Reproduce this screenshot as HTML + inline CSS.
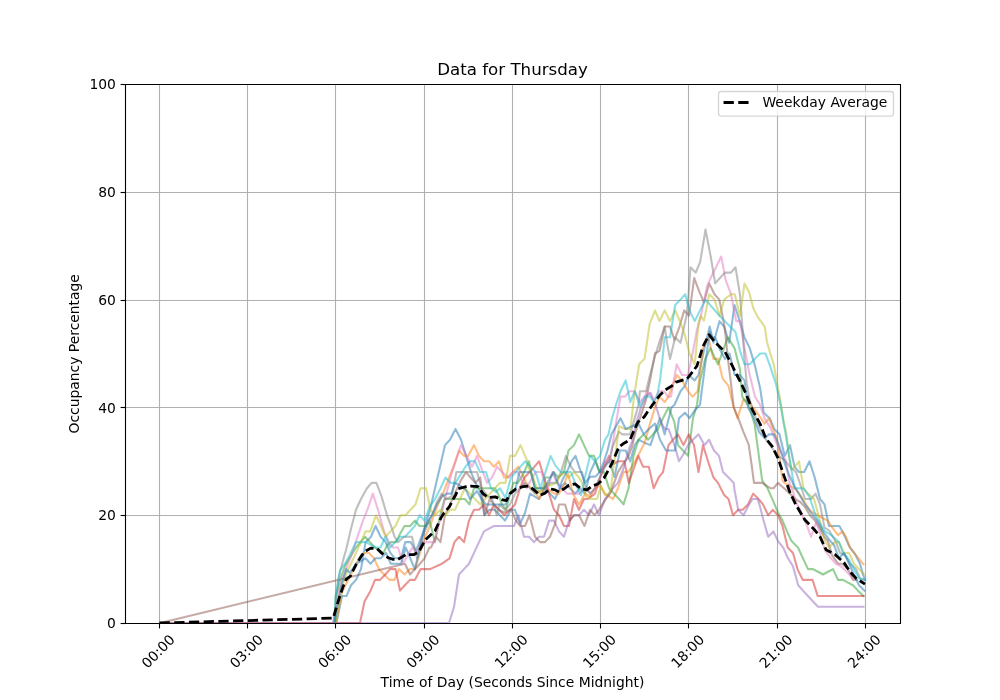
<!DOCTYPE html>
<html><head><meta charset="utf-8"><title>Data for Thursday</title>
<style>html,body{margin:0;padding:0;background:#fff}svg{display:block}</style></head>
<body>
<svg width="1000" height="700" viewBox="0 0 1000 700">
<defs><clipPath id="ax"><rect x="125" y="84" width="775" height="539"/></clipPath></defs>
<rect width="1000" height="700" fill="#fff"/>
<g stroke="#b0b0b0" stroke-width="1.11" fill="none">
<path d="M159.5 84V623"/>
<path d="M247.5 84V623"/>
<path d="M335.5 84V623"/>
<path d="M424.5 84V623"/>
<path d="M512.5 84V623"/>
<path d="M600.5 84V623"/>
<path d="M688.5 84V623"/>
<path d="M777.5 84V623"/>
<path d="M865.5 84V623"/>
<path d="M125 515.5H900"/>
<path d="M125 407.5H900"/>
<path d="M125 300.5H900"/>
<path d="M125 192.5H900"/>
</g>
<g stroke="#000" stroke-width="1.11" fill="none">
<path d="M159.5 623.5v4.9"/>
<path d="M247.5 623.5v4.9"/>
<path d="M335.5 623.5v4.9"/>
<path d="M424.5 623.5v4.9"/>
<path d="M512.5 623.5v4.9"/>
<path d="M600.5 623.5v4.9"/>
<path d="M688.5 623.5v4.9"/>
<path d="M777.5 623.5v4.9"/>
<path d="M865.5 623.5v4.9"/>
<path d="M125.5 623.5h-4.9"/>
<path d="M125.5 515.5h-4.9"/>
<path d="M125.5 407.5h-4.9"/>
<path d="M125.5 300.5h-4.9"/>
<path d="M125.5 192.5h-4.9"/>
<path d="M125.5 84.5h-4.9"/>
</g>
<g clip-path="url(#ax)" fill="none" stroke-width="2.08" stroke-linejoin="round" stroke-linecap="square" stroke-opacity="0.5">
<polyline stroke="#1f77b4" points="336.4,623 342,596.05 346.5,596.05 351,585.27 356,579.88 361,569.1 365.6,542.15 371,536.76 375.6,525.98 380.6,536.76 385.6,542.15 390.4,552.93 394.8,558.32 401,558.32 405.2,542.15 410.6,542.15 416,550.77 422,535.68 425,525.98 430,509.81 435,488.25 440,466.69 445,445.13 450,439.74 455.5,428.96 461,439.74 466,455.91 471,472.08 475.5,482.86 480,490.95 484.5,515.2 489,509.81 494.6,509.81 500,515.2 505,520.59 511,509.81 515,509.81 520,523.82 525,513.04 530,493.64 539,499.03 545,488.25 550,493.64 555,499.03 560,488.25 565,482.86 570,488.25 575,493.64 580,488.25 585,493.64 590,472.62 595.2,461.3 599.8,472.08 604.5,466.69 609,460.22 614.5,476.93 620,450.52 625.7,450.52 630.2,461.3 634.8,445.13 638.5,439.74 644,442.44 650.5,445.13 655,431.65 660,418.18 664.7,434.35 671.5,407.4 674.5,404.71 680.5,391.23 685,385.84 688.7,375.06 694.7,380.45 698.5,375.06 704.5,348.11 709.7,326.55 713.5,342.72 719.5,321.16 724,326.55 729.2,342.72 734.5,304.99 740,322.24 744.5,337.33 749.7,348.11 755,365.9 760.2,388.54 763.7,412.79 769.7,418.18 774.2,428.96 779.5,434.35 784.7,455.91 790,445.13 794.5,466.69 799,472.08 804.2,472.08 809.5,461.3 814.7,477.47 820,499.03 824.5,504.42 829,525.98 839.5,525.98 845,536.76 850,547.54 855,554.01 860,563.71 863,574.49 865,579.88"/>
<polyline stroke="#ff7f0e" points="336,623 342,592.28 346.2,583.65 351,574.49 356,563.71 361,555.62 364.5,552.93 369,552.93 374,558.32 379,569.1 384,574.49 389.5,579.88 394.5,579.88 399,569.1 404.5,574.49 410,569.1 415,569.1 420,552.93 425,536.76 430,525.98 434,515.2 438,504.42 443,493.64 448,480.17 453.5,466.69 459,450.52 464,455.91 468,455.91 474,445.13 479,455.91 484,461.3 489,461.3 494,466.69 499,461.3 504,477.47 508,477.47 513,472.08 518.2,466.69 523,475.85 526,482.86 531,488.25 536.2,493.64 539,499.03 545,486.09 550,490.95 554.5,493.64 559,493.64 564,485.02 568,473.7 573,493.64 579,504.42 585,493.64 590,496.34 595,488.25 600,485.56 605,493.64 609,496.34 613,499.03 618,488.25 623.6,472.08 627.8,472.08 631.3,467.77 635,461.3 639,453.75 644.6,442.97 650,423.57 655,407.4 659.5,396.62 664.7,402.01 668.5,396.62 672.5,385.84 676.7,375.06 682,380.45 688,391.23 692.5,396.62 697.7,391.23 703,348.11 708.2,337.33 713.5,358.89 718,358.89 722.5,378.29 728.5,385.84 733,404.71 737.5,418.18 743.5,399.32 748,402.01 753,407.4 759,415.49 764.5,423.57 769,418.18 773,428.96 777.2,439.74 780,461.3 782.5,480.17 784,482.86 790,485.56 796,489.87 801,496.34 806,504.42 811,511.43 818.5,515.74 827.5,520.59 833,528.67 838,535.14 842.5,531.37 846,536.76 849,545.92 854,552.93 859,558.86 863.5,564.25"/>
<polyline stroke="#2ca02c" points="335,623 335.8,596.05 340,580.42 345,565.87 350,557.24 356,547.54 360.5,542.15 365,536.76 370,542.15 375,547.54 379.5,550.24 383.5,552.93 387,545.38 390.5,542.15 396,542.15 400,534.07 404.5,525.98 410,525.98 415,520.59 419.5,525.98 426,525.98 429.5,520.59 435,542.15 439,520.59 444.5,499.03 464.9,499.03 469.4,504.42 474,488.25 495,488.25 498,493.64 502,504.42 506,509.81 510,493.64 513.4,482.86 517.6,482.86 522.4,475.85 529,461.3 532,475.85 535,488.25 544,488.25 545,477.47 550,477.47 553.6,472.08 558.4,477.47 564,472.08 568.5,450.52 574,445.13 579,434.35 584,445.13 589,455.91 594,455.91 599.5,472.08 604,472.08 609,488.25 614,493.64 619,499.03 623.5,504.42 628.5,488.25 633.5,455.91 638.5,439.74 643.7,434.35 648,439.74 653,434.35 658,428.96 663,418.18 668.5,407.4 674.5,422.49 678,445.13 683,450.52 688,455.91 693,418.18 697,404.71 700,380.45 705.2,358.89 710.5,348.11 714,356.19 718,364.28 723,350.81 727.7,337.33 734.5,348.11 740,369.67 742.2,396.62 749.5,407.4 754.7,424.65 757.7,447.29 762.2,480.7 767.5,488.25 773,500.65 778,512.5 782.5,520.59 787,531.37 791.5,541.07 798,547.54 803,558.32 808,569.1 813,569.1 818,571.79 823,574.49 828,571.79 833,569.1 838,579.88 843,579.88 848,582.58 853,585.27 858,590.66 863.5,596.05"/>
<polyline stroke="#d62728" points="160.2,623 360,623 364.5,601.44 370.6,590.66 375,579.88 380,579.88 385.3,574.49 390,569.1 395.5,569.1 400,590.66 404.8,585.27 410,579.88 415,579.88 420.5,569.1 430,569.1 442,563.71 449.5,558.32 454.5,542.15 459,536.76 464,542.15 469,520.59 474,509.81 479,509.81 484,504.42 489,515.2 494,504.42 498.8,509.81 504.4,515.2 510,509.81 515,504.42 518.4,493.64 520,488.25 524.5,477.47 529.5,472.08 534.5,466.69 539.2,461.3 544,477.47 549,493.64 554,509.81 559,515.2 564,525.98 569,525.98 574,499.03 579,509.81 584,499.03 588,499.03 595,493.64 599,480.17 604,466.69 609,455.91 613.5,464 618,461.3 624.3,461.3 628.8,482.86 633.5,469.38 638.3,455.91 643,466.69 648.8,466.69 653.7,488.25 658.7,477.47 663,472.08 668.5,445.13 673,439.74 678,434.35 683.5,445.13 688.7,434.35 694,445.13 698.5,472.08 703,445.13 708,461.3 713.5,477.47 718,482.86 724,494.72 728.5,499.03 733,515.2 738.2,509.81 742.7,509.81 748,504.42 753.2,493.64 758.5,499.03 763,504.42 768.2,515.2 772.7,509.81 778,515.2 782.5,525.98 787.7,547.54 793,552.93 797.5,569.1 802.7,579.88 812.5,579.88 817.7,596.05 863.5,596.05"/>
<polyline stroke="#9467bd" points="160.2,623 336.4,623 449,623 454,606.83 459,574.49 464,569.1 469,563.71 474,552.93 479,542.15 484,531.37 489,528.67 494,525.98 505,525.98 514,525.98 518.5,515.2 524,536.76 529,536.76 534,542.15 539,536.76 544,536.76 549,520.59 554,520.59 559,531.37 564,536.76 569,520.59 574,515.2 579,515.2 584,509.81 589,515.2 594,504.42 599,515.2 605,499.03 609,493.64 613,488.25 618,482.86 623.6,467.77 629.2,448.36 632.7,439.74 636,423.57 641,407.4 646,396.62 650.5,392.85 656,406.32 661,422.49 665,428.96 668.5,428.96 674.5,445.13 679,461.3 684,453.22 688,445.13 693,439.74 698.5,434.35 704.5,445.13 709,439.74 714,450.52 719,455.91 723,472.08 728.5,477.47 733.7,482.86 734.5,489.87 738.2,509.81 743.5,515.2 748,506.58 752.5,499.03 757.7,499.03 760,506.58 763,518.43 768.2,536.76 773.5,531.37 778,541.07 783.2,547.54 788,558.32 793,566.4 798.2,585.27 803,590.66 808,596.05 813,601.44 818,606.83 863.5,606.83"/>
<polyline stroke="#8c564b" points="160.2,623 405,563.71 410,574.49 415,569.1 420,563.71 424.5,558.32 429.5,547.54 431,547.54 436,536.76 440.5,542.15 445,515.2 450,504.42 456,490.95 461,480.17 466,472.08 470.5,477.47 475.4,482.86 480.3,477.47 484.5,515.2 489.7,499.03 494,504.42 498.8,509.81 504.4,512.5 511,509.27 516,520.59 520,525.98 525,525.98 529.5,515.2 535,536.76 540,542.15 545,542.15 550,536.76 555,523.82 559,504.42 565,504.42 570,520.59 574,515.2 579,515.2 584.5,525.98 590,509.81 594.5,515.2 599,509.81 605,500.11 610,493.64 614.5,481.78 618,472.08 623,464 627.8,457.53 632,446.75 635,434.35 638.5,422.49 646,399.85 650,380.45 655,353.5 659.5,350.81 664.7,326.55 670,326.55 674.5,340.03 679.5,326.55 684.2,310.38 689,315.77 694.2,278.04 699.5,292.05 704,302.3 709.2,283.43 714.5,294.21 719.3,299.6 722.5,315.77 725,329.78 728,359.43 731,383.68 733.7,407.4 738.2,418.18 743.5,432.19 748.7,444.59 751.5,464 754,482.86 762.2,482.86 770.5,488.25 773.5,488.25 778,482.86 784,488.25 790,493.64 796,499.57 800,501.73 805,507.12 810,515.2 815,520.59 820,528.67 824,536.76 828,541.07 832,555.09 838,563.71 842,563.71 848,569.1 853,579.88 857,579.88"/>
<polyline stroke="#e377c2" points="333,623 339.2,590.12 342,579.88 346,569.1 351.5,555.09 357.5,536.76 363,520.59 368,508.19 372.8,493.64 378,509.81 384,531.37 389,542.15 393.2,547.54 398,547.54 402.8,563.71 407.6,555.62 412.4,547.54 416.4,552.93 422,542.15 427,542.15 434,542.15 440,520.59 445,499.03 452,472.08 456.5,458.61 461,445.13 466.5,455.91 472,466.69 477,455.91 482,469.92 487,482.86 492,477.47 497,466.69 502,472.08 508,477.47 512.8,472.08 517.6,472.08 521.8,480.17 526.6,488.25 530.8,480.17 535.6,472.08 541.6,472.08 544.6,481.78 548,488.25 552.4,472.08 556,480.7 558,482.86 562,488.25 567,493.64 579,493.64 585,488.25 591,493.64 595,488.25 600,477.47 605,461.3 610,461.3 615,428.96 620.5,396.62 625,396.62 629.5,391.23 634.7,391.23 640,402.01 644.5,396.62 647,391.23 650,393.93 654,400.39 659,391.23 664,391.23 668,396.62 671,396.62 676.7,364.28 682,375.06 688,375.06 692.5,353.5 697,329.78 701,315.77 707,286.12 710.7,278.04 716,267.26 721.2,256.48 725.7,280.2 731,294.21 736.2,321.16 740,321.16 744.5,348.11 749.7,375.06 755,396.62 760,404.71 764.5,418.18 770.5,427.88 775,439.74 780,450.52 785.5,459.68 790,485.56 793,491.48 796,502.26 800,509.81 803.5,518.43 807,525.98 811,536.76 816.2,522.21 820,533.53 825,550.24 831,558.32 836,563.71 841,566.4 847,571.79 853,578.8"/>
<polyline stroke="#7f7f7f" points="333.5,623 338.4,578.8 343.3,559.4 346,550.24 351,528.67 356,509.81 361,499.03 367,488.25 371.5,482.86 376.4,482.86 381.5,496.34 387,515.2 392,528.67 394.5,536.76 398,542.15 404,536.76 412,536.76 417,558.32 422,536.76 427,525.98 432,515.2 437,501.73 441.8,493.64 446,499.03 451.5,496.34 456.5,472.08 461.5,472.08 466.5,472.08 471.5,472.08 477,472.08 481.5,488.25 488,496.34 492,499.03 496.7,515.2 499.5,504.42 505,509.81 510,504.42 515,493.64 520,488.25 525,482.86 530,488.25 535,493.64 540,490.95 545,488.25 550,482.86 556,482.86 561,472.08 566,455.91 571,466.69 575,472.08 582,472.08 585,485.56 590,493.64 595,488.25 600,477.47 605,466.69 609,461.3 612.4,447.29 615.5,439.74 619,431.65 622,434.35 630,434.35 634,420.88 638.5,404.71 640,391.23 646,391.23 650,375.06 655,356.19 660,340.03 664.7,326.55 667,342.72 670,358.89 675.2,337.33 680.5,342.72 686.5,315.77 688.2,299.6 690.5,267.26 695.7,272.65 700.2,261.87 705.5,229.53 710.7,256.48 715.2,283.43 720,278.04 725,272.65 731,272.65 735.5,267.26 740,294.75 742.2,324.93 744.5,358.89 746.7,383.14 749.5,399.32 754,412.79 758,423.57 763,434.35 766,439.74 772,447.83 778,455.91 784,459.68 790,466.69 796,472.08 800.5,485.02 805,499.03 811,499.03 815.5,493.64 820,504.42 824.5,527.6 829,530.29 836,542.15 840,552.93 845,555.09 850,563.71 856,569.1 860,578.26 864,579.88"/>
<polyline stroke="#bcbd22" points="335.5,623 341.3,588.5 346.2,574.49 351,563.71 356,552.93 361,542.15 365.5,531.37 370.3,531.37 376,515.2 381,525.98 385.5,536.76 390.5,531.37 395.5,525.98 400.5,515.2 405.5,515.2 410.5,509.81 415.5,504.42 420.5,488.25 426,488.25 430.5,509.81 435,515.2 440.5,509.81 445.4,515.2 450.2,509.81 455,509.81 460,499.03 464.9,488.25 469.8,493.64 475,499.03 480.3,504.42 485,499.03 490,493.64 495,488.25 500,482.86 505.5,482.86 510,455.91 515,455.91 520.5,445.13 526.5,459.14 530,472.08 533,477.47 536,485.56 539,493.64 541.6,490.41 545,482.86 550,485.56 556.6,482.86 560,475.85 564.5,472.08 569,477.47 574,472.08 579,477.47 582,482.86 586,496.34 591,499.03 597,499.03 601,486.09 605,495.26 609,493.64 611,488.25 613.8,464.53 616,450.52 619,426.26 625,428.96 630.5,428.96 634,396.62 637,377.75 639.2,364.28 644.5,358.89 649.7,323.86 655,310.38 659.5,321.16 664.7,310.38 670,321.16 675.2,310.38 680.5,322.78 685,335.71 689.5,353.5 694.7,364.28 698.5,323.86 700.5,315.77 704,320.62 709.2,294.21 714.5,299.6 719.7,315.77 724.2,299.6 731,294.21 734.7,294.21 740,315.77 744.5,283.43 749,292.05 753.5,308.76 758,317.39 764.7,326.55 767,342.18 770,352.42 773.7,364.28 777.5,385.3 780.5,402.01 784,423.57 786.2,432.19 789,455.91 791.5,469.92 795,466.69 799,461.3 803.5,488.25 808,493.64 814,499.03 818.5,515.2 824.5,539.99 829,547.54 834.5,542.15 839,542.15 844,552.93 849,552.93 854,563.71 859,569.1 864,574.49"/>
<polyline stroke="#17becf" points="335,623 335.6,596.05 340,570.18 345,563.71 350,554.55 356,542.15 361,542.15 366,542.15 370.7,544.85 375.6,547.54 380.5,547.54 385.4,536.76 390.3,547.54 395.2,542.15 400.1,536.76 405,536.76 410,531.37 414.8,525.98 419.7,515.2 424.6,520.59 429.5,507.12 435,499.03 440.5,488.25 445.5,477.47 450.5,482.86 455.5,482.86 460.5,474.77 465.5,466.69 470,461.3 475,461.3 480,472.08 486,472.08 491,488.25 496,492.02 500,488.25 505.5,497.95 511,477.47 515.8,472.08 520.5,466.69 525.4,461.3 530.2,466.69 535.6,472.08 540.4,488.25 545.5,472.08 550.6,455.91 555.4,465.61 560.8,472.08 571,472.08 575,482.86 581,495.26 585.5,474.77 590,455.91 595,461.3 600,455.91 605,439.74 608.5,434.35 612,418.18 616,404.71 620.5,391.23 625.7,380.45 630.2,402.01 634.7,391.23 640,406.32 645,396.62 650,396.62 654,402.01 657,396.62 660,380.45 662.5,358.89 664.7,337.33 670,337.33 675.2,304.99 680.5,299.6 685.2,294.21 689.5,310.38 694.7,321.16 700,310.38 705.5,299.6 719.5,315.77 735.5,331.94 740,350.81 744.5,364.28 749.7,364.28 755,358.89 760.2,353.5 765.5,353.5 770,365.9 776,384.22 780.5,404.71 784,425.19 787,442.44 790,461.3 794.5,488.25 803.5,488.25 809.5,496.87 815.5,515.2 820,523.28 824.5,530.83 832,535.68 839,542.15 843,552.93 848,558.32 854,569.1 859,578.26 865,579.88"/>
<polyline stroke="#1f77b4" points="334.5,623 341.3,585.27 346.3,569.1 349.8,572.87 356,563.71 361,561.01 365.5,558.32 370.5,563.71 375.5,558.32 380.5,558.32 386,552.93 390.8,563.71 401,563.71 405.8,547.54 410.3,558.32 414.8,569.1 419.6,550.24 424.4,529.75 428,520.59 432,515.2 437,504.42 442,496.34 447,493.64 451.5,493.64 455,482.86 460,485.56 466,489.87 470,499.03 477,490.95 481.5,499.03 486,504.42 492,504.42 497.4,504.42 505.8,504.42 510,493.64 515,490.95 519.4,472.08 530.8,472.08 535,488.25 544,488.25 549,480.17 553.6,472.08 559.6,488.25 562,480.7 568,469.38 571.5,461.3 575.5,455.91 580,469.38 585,482.86 590,476.93 595.6,476.39 599.8,472.08 604,461.3 607.5,450.52 611.5,434.35 616,426.26 620.5,418.18 625.7,428.96 632,426.26 638.5,423.57 643.7,434.35 649,428.96 655,423.57 660,439.74 666,450.52 675,450.52 679,418.18 685,412.79 689.5,418.18 695,410.1 700,404.71 705.2,364.28 709.7,331.94 712.2,337.33 715.2,337.33 719.7,349.19 725,358.89 729.5,353.5 734.7,375.06 740,375.06 744.5,380.45 748,407.4 754,418.18 759.2,432.19 764.5,438.12 769,434.35 774.2,434.35 779,445.13 784,461.3 789,474.77 794,485.56 799,493.64 805,504.42 811,512.5 817,520.59 823,531.37 829,539.46 834,544.85 839,558.32 844,552.93 849,563.71 854,574.49 859,585.27 864.5,590.66"/>
</g>
<polyline clip-path="url(#ax)" fill="none" stroke="#000" stroke-width="2.78" stroke-dasharray="10.28 4.44" stroke-linejoin="round" points="159.5,623 333.3,618.15"/>
<polyline clip-path="url(#ax)" fill="none" stroke="#000" stroke-width="2.78" stroke-dasharray="8.57 3.7" stroke-dashoffset="9.96" stroke-linejoin="round" points="333.3,618.15 336.7,606.29 339.5,597.13 343,586.89 346.2,579.34 350.4,576.11 356,564.79 362,555.09 364.4,551.85 370.8,548.08 377.2,548.62 382,553.47 388.4,557.78 393.2,559.4 398,559.4 406,554.55 414,554.55 418.8,551.85 425.2,539.99 435,530.83 441,517.89 444,513.04 449.5,506.58 453,499.57 455.8,494.72 458,488.79 466.3,486.63 470.5,486.09 478.2,486.63 483,493.64 488,497.41 495.3,496.87 501.6,499.57 506.5,500.65 510,493.64 516,488.79 523,486.63 529,486.09 534,489.87 540,495.26 545,493.1 550,488.79 555,489.87 559,492.02 564,488.79 569,485.02 575,483.94 581,488.79 587,489.87 592,486.09 598,483.94 604,478.01 611.5,464.53 619,446.75 623.5,443.51 630,439.74 633,432.73 638,421.95 644,417.1 648,411.17 653,404.17 660,395 665,390.15 672,385.84 676,382.07 685,379.37 688,377.75 697,365.9 703,346.49 709,334.63 715.5,342.72 725,351.88 731,363.2 736,373.44 740,380.99 746,393.93 752.5,410.1 760,423.57 766,438.66 772,446.21 778,458.07 784,475.85 790,492.56 796,504.96 805,520.05 814,529.21 820,536.76 826,549.7 835,554.55 844,562.63 850,571.79 856,578.26 865,584.19"/>
<path d="M125.5 84.5H900.5V623.5H125.5Z" fill="none" stroke="#000" stroke-width="1.11" stroke-linejoin="miter"/>
<g font-family='"DejaVu Sans","Liberation Sans",sans-serif' font-size="13.89" fill="#000">
<text transform="translate(147.49 668.89) rotate(-45)">00:00</text>
<text transform="translate(235.74 668.89) rotate(-45)">03:00</text>
<text transform="translate(323.99 668.89) rotate(-45)">06:00</text>
<text transform="translate(412.24 668.89) rotate(-45)">09:00</text>
<text transform="translate(500.49 668.89) rotate(-45)">12:00</text>
<text transform="translate(588.74 668.89) rotate(-45)">15:00</text>
<text transform="translate(676.99 668.89) rotate(-45)">18:00</text>
<text transform="translate(765.24 668.89) rotate(-45)">21:00</text>
<text transform="translate(853.49 668.89) rotate(-45)">24:00</text>
<text x="115.9" y="628.28" text-anchor="end">0</text>
<text x="115.9" y="520.48" text-anchor="end">20</text>
<text x="115.9" y="412.68" text-anchor="end">40</text>
<text x="115.9" y="304.88" text-anchor="end">60</text>
<text x="115.9" y="197.08" text-anchor="end">80</text>
<text x="115.9" y="89.28" text-anchor="end">100</text>
<text x="512.5" y="686.64" text-anchor="middle">Time of Day (Seconds Since Midnight)</text>
<text transform="translate(78.6 353.8) rotate(-90)" text-anchor="middle">Occupancy Percentage</text>
<text x="512.5" y="74.9" text-anchor="middle" font-size="16.67">Data for Thursday</text>
<rect x="718.5" y="91.5" width="175" height="24.6" rx="2.8" fill="#fff" fill-opacity="0.8" stroke="#ccc" stroke-opacity="0.8" stroke-width="1.39"/>
<path d="M723.56 102.5h27.78" stroke="#000" stroke-width="2.78" stroke-dasharray="10.28 4.44" fill="none"/>
<text x="762.45" y="107.05">Weekday Average</text>
</g>
</svg>
</body></html>
